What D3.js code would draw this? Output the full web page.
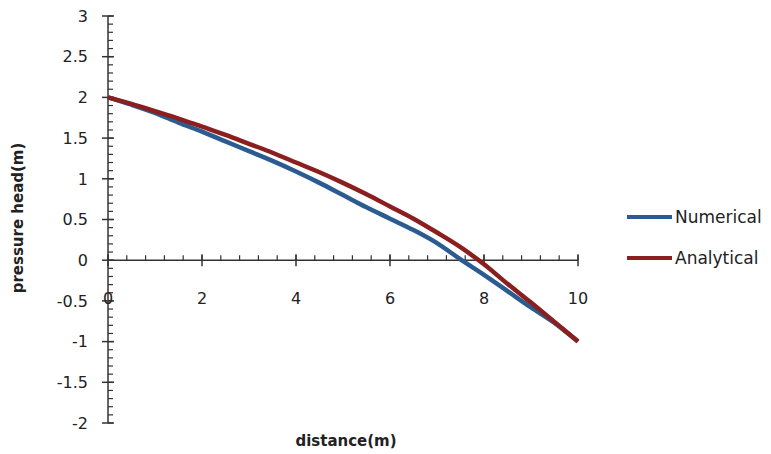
<html>
<head>
<meta charset="utf-8">
<title>Pressure head</title>
<script src="https://d3js.org/d3.v7.min.js"></script>
<style>
  body { margin: 0; background: #fff; }
  text { font-family: "DejaVu Sans", sans-serif; fill: #222; }
</style>
</head>
<body>
<svg width="771" height="454"></svg>
<script>
// distance (m)
var distance = [0, 0.5, 1, 1.5, 2, 2.5, 3, 3.5, 4, 4.5, 5, 5.5, 6, 6.5, 7, 7.5, 8, 8.5, 9, 9.5, 10];
// pressure head (m)
var numerical = [2.0, 1.91, 1.81, 1.69, 1.58, 1.46, 1.34, 1.22, 1.09, 0.95, 0.80, 0.65, 0.51, 0.37, 0.21, 0.01, -0.18, -0.38, -0.58, -0.77, -1.0];
var analytical = [2.0, 1.92, 1.83, 1.74, 1.64, 1.54, 1.43, 1.32, 1.20, 1.08, 0.95, 0.81, 0.66, 0.51, 0.34, 0.16, -0.05, -0.29, -0.52, -0.76, -1.0];
var xTicks = [0, 2, 4, 6, 8, 10];
var yTicks = [-2, -1.5, -1, -0.5, 0, 0.5, 1, 1.5, 2, 2.5, 3];
var seriesNames = ["Numerical", "Analytical"];
var seriesColors = ["#2b5c91", "#8b1f1f"];

var svg = d3.select("svg");

var x = d3.scaleLinear().domain([0, 10]).range([108, 578]);
var y = d3.scaleLinear().domain([-2, 3]).range([423, 16]);

// y axis (vertical line at x = 0)
var yAxis = svg.append("g").attr("transform", "translate(" + x(0) + ",0)");
yAxis.append("line")
    .attr("y1", y(3)).attr("y2", y(-2))
    .attr("stroke", "#333").attr("stroke-width", 1.5);
yAxis.selectAll(".minor")
    .data(d3.range(-20, 31).map(d => d / 10))
    .enter().append("line")
    .attr("x1", 0).attr("x2", 5)
    .attr("y1", d => y(d)).attr("y2", d => y(d))
    .attr("stroke", "#333").attr("stroke-width", 1.2);
yAxis.selectAll(".major")
    .data(yTicks)
    .enter().append("line")
    .attr("x1", -6).attr("x2", 6)
    .attr("y1", d => y(d)).attr("y2", d => y(d))
    .attr("stroke", "#333").attr("stroke-width", 1.5);
yAxis.selectAll("text")
    .data(yTicks)
    .enter().append("text")
    .attr("x", -20)
    .attr("y", d => y(d))
    .attr("dy", "0.36em")
    .attr("text-anchor", "end")
    .style("font-size", "16px")
    .text(d => d);

// x axis (horizontal line at y = 0)
var xAxis = svg.append("g").attr("transform", "translate(0," + y(0) + ")");
xAxis.append("line")
    .attr("x1", x(0)).attr("x2", x(10))
    .attr("stroke", "#333").attr("stroke-width", 1.5);
xAxis.selectAll(".minor")
    .data(d3.range(0, 26).map(d => d * 0.4))
    .enter().append("line")
    .attr("x1", d => x(d)).attr("x2", d => x(d))
    .attr("y1", 0).attr("y2", -5)
    .attr("stroke", "#333").attr("stroke-width", 1.2);
xAxis.selectAll(".major")
    .data(xTicks)
    .enter().append("line")
    .attr("x1", d => x(d)).attr("x2", d => x(d))
    .attr("y1", -6).attr("y2", 6)
    .attr("stroke", "#333").attr("stroke-width", 1.5);
xAxis.selectAll("text")
    .data(xTicks)
    .enter().append("text")
    .attr("x", d => x(d))
    .attr("y", 44)
    .attr("text-anchor", "middle")
    .style("font-size", "16px")
    .text(d => d);

// lines
var line = d3.line()
    .x(d => x(d[0]))
    .y(d => y(d[1]))
    .curve(d3.curveMonotoneX);

[numerical, analytical].forEach(function(vals, i) {
  svg.append("path")
      .datum(distance.map((d, j) => [d, vals[j]]))
      .attr("fill", "none")
      .attr("stroke", seriesColors[i])
      .attr("stroke-width", 4.5)
      .attr("stroke-linejoin", "round")
      .attr("d", line);
});

// axis titles
svg.append("text")
    .attr("x", 346).attr("y", 446)
    .attr("text-anchor", "middle")
    .style("font-size", "15px").style("font-weight", "bold")
    .text("distance(m)");
svg.append("text")
    .attr("transform", "translate(23,218) rotate(-90)")
    .attr("text-anchor", "middle")
    .style("font-size", "15px").style("font-weight", "bold")
    .text("pressure head(m)");

// legend
var legend = svg.selectAll(".legend")
    .data(seriesNames)
    .enter().append("g")
    .attr("transform", (d, i) => "translate(627," + (217 + i * 41) + ")");
legend.append("line")
    .attr("x1", 0).attr("x2", 45)
    .attr("stroke", (d, i) => seriesColors[i])
    .attr("stroke-width", 4);
legend.append("text")
    .attr("x", 48)
    .attr("dy", "0.36em")
    .style("font-size", "17px")
    .text(d => d);
</script>
</body>
</html>
